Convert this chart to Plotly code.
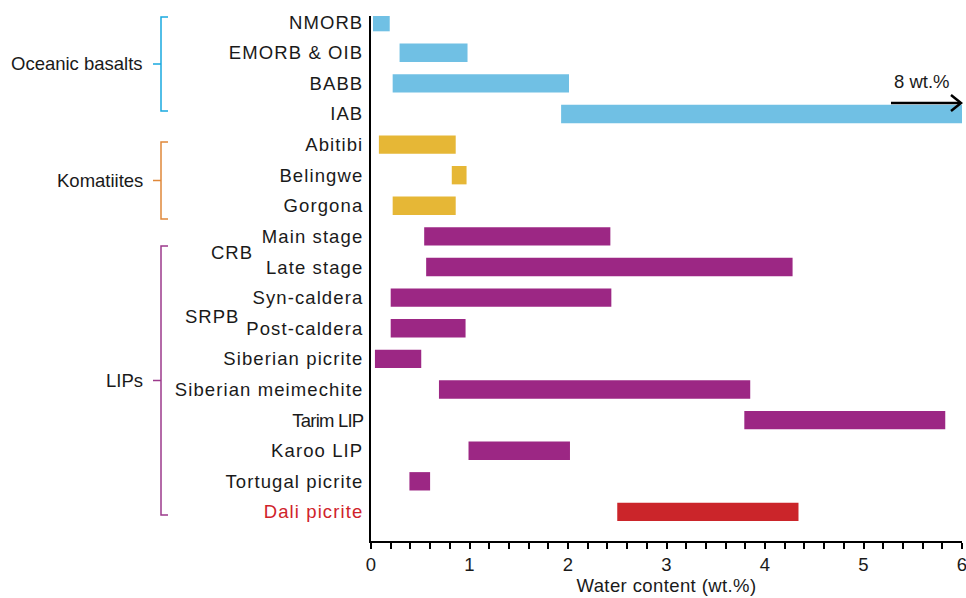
import plotly.graph_objects as go

# ---------------- data ----------------
categories = ["NMORB", "EMORB & OIB", "BABB", "IAB",
              "Abitibi", "Belingwe", "Gorgona",
              "Main stage", "Late stage", "Syn-caldera", "Post-caldera",
              "Siberian picrite", "Siberian meimechite", "Tarim LIP",
              "Karoo LIP", "Tortugal picrite", "Dali picrite"]
water_min = [0.02, 0.29, 0.22, 1.93,
             0.08, 0.82, 0.22,
             0.54, 0.56, 0.20, 0.20,
             0.04, 0.69, 3.79,
             0.99, 0.39, 2.50]
water_max = [0.19, 0.98, 2.01, 8.00,
             0.86, 0.97, 0.86,
             2.43, 4.28, 2.44, 0.96,
             0.51, 3.85, 5.83,
             2.02, 0.60, 4.34]
group_of = ["ocean"] * 4 + ["koma"] * 3 + ["lip"] * 9 + ["dali"]
x_ticks = [0, 1, 2, 3, 4, 5, 6]

# ---------------- style ----------------
colors = {"ocean": "#70c0e4", "koma": "#e6b736", "lip": "#9c2784", "dali": "#cb252a"}
bracket_colors = {"ocean": "#1aa9e0", "koma": "#e0883a", "lip": "#9c3a8c"}
FONT = "Liberation Sans, Arial, Helvetica, sans-serif"
FS = 18.5

W, H = 966, 598
L, R, T, B = 371, 4, 16, 57
PW, PH = W - L - R, H - T - B


def px(x):
    return (x - L) / PW


def py(y):
    return (H - B - y) / PH


fig = go.Figure()
fig.add_trace(go.Bar(
    y=categories,
    x=[b - a for a, b in zip(water_min, water_max)],
    base=water_min,
    orientation="h",
    width=0.6,
    marker=dict(color=[colors[g] for g in group_of], line=dict(width=0)),
    showlegend=False,
    hoverinfo="skip",
))


def tick_label(name, grp):
    spacing = "-0.8px" if name == "Tarim LIP" else "1.1px"
    color = "color:#d0232a;" if grp == "dali" else ""
    return f'<span style="{color}letter-spacing:{spacing}">{name}</span>'


ticktext = [tick_label(c, g) for c, g in zip(categories, group_of)]

fig.update_layout(
    width=W, height=H,
    margin=dict(l=L, r=R, t=T, b=B, autoexpand=False),
    plot_bgcolor="white", paper_bgcolor="white",
    font=dict(family=FONT, size=FS, color="#1a1a1a"),
    xaxis=dict(
        range=[0, 6], tickvals=x_ticks, ticks="outside", ticklen=6, tickwidth=2,
        tickcolor="black", showline=True, linecolor="black", linewidth=2,
        showgrid=False, zeroline=False, automargin=False, ticklabeloverflow="allow",
        minor=dict(dtick=0.2, ticks="outside", ticklen=6, tickwidth=2, tickcolor="black"),
        title=dict(text='<span style="letter-spacing:0.4px">Water content (wt.%)</span>',
                   standoff=4, font=dict(size=FS)),
        tickfont=dict(size=FS),
    ),
    yaxis=dict(
        type="category", categoryorder="array", categoryarray=categories,
        range=[16.95, -0.2], tickmode="array", tickvals=categories, ticktext=ticktext,
        ticks="", showline=True, linecolor="black", linewidth=2, showgrid=False,
        zeroline=False, tickfont=dict(size=FS), ticklabelstandoff=2, automargin=False,
    ),
)

# ---------------- group brackets ----------------
brackets = [("Oceanic basalts", "ocean", 17, 111),
            ("Komatiites", "koma", 142, 219),
            ("LIPs", "lip", 246, 515)]
bx, tick_r, tick_l = 161, 168, 153
for label, key, top, bot in brackets:
    c = bracket_colors[key]
    mid = (top + bot) / 2
    path = (f"M {px(tick_r)} {py(top)} L {px(bx)} {py(top)} L {px(bx)} {py(bot)} "
            f"L {px(tick_r)} {py(bot)} M {px(bx)} {py(mid)} L {px(tick_l)} {py(mid)}")
    fig.add_shape(type="path", path=path, xref="paper", yref="paper",
                  line=dict(color=c, width=1.5))
    fig.add_annotation(text=label, x=px(145), y=py(mid), xref="paper", yref="paper",
                       xanchor="right", yanchor="middle", showarrow=False,
                       font=dict(size=FS))

# sub-group labels
for label, cx, cy in [("CRB", 232, 253), ("SRPB", 212, 317)]:
    fig.add_annotation(text=f'<span style="letter-spacing:1px">{label}</span>',
                       x=px(cx), y=py(cy), xref="paper", yref="paper",
                       xanchor="center", yanchor="middle", showarrow=False,
                       font=dict(size=FS))

# ---------------- IAB off-scale arrow ----------------
fig.add_annotation(text="8 wt.%", x=px(922), y=py(82), xref="paper", yref="paper",
                   xanchor="center", yanchor="middle", showarrow=False, font=dict(size=FS))
fig.add_shape(type="line", x0=px(891), x1=px(960), y0=py(103), y1=py(103),
              xref="paper", yref="paper", line=dict(color="black", width=2.5))
fig.add_shape(type="path",
              path=f"M {px(951)} {py(95)} L {px(961)} {py(103)} L {px(951)} {py(111)}",
              xref="paper", yref="paper", line=dict(color="black", width=2.5))

fig.write_html("out.html", config={"displayModeBar": False},
               post_script="document.body.style.margin='0';")
